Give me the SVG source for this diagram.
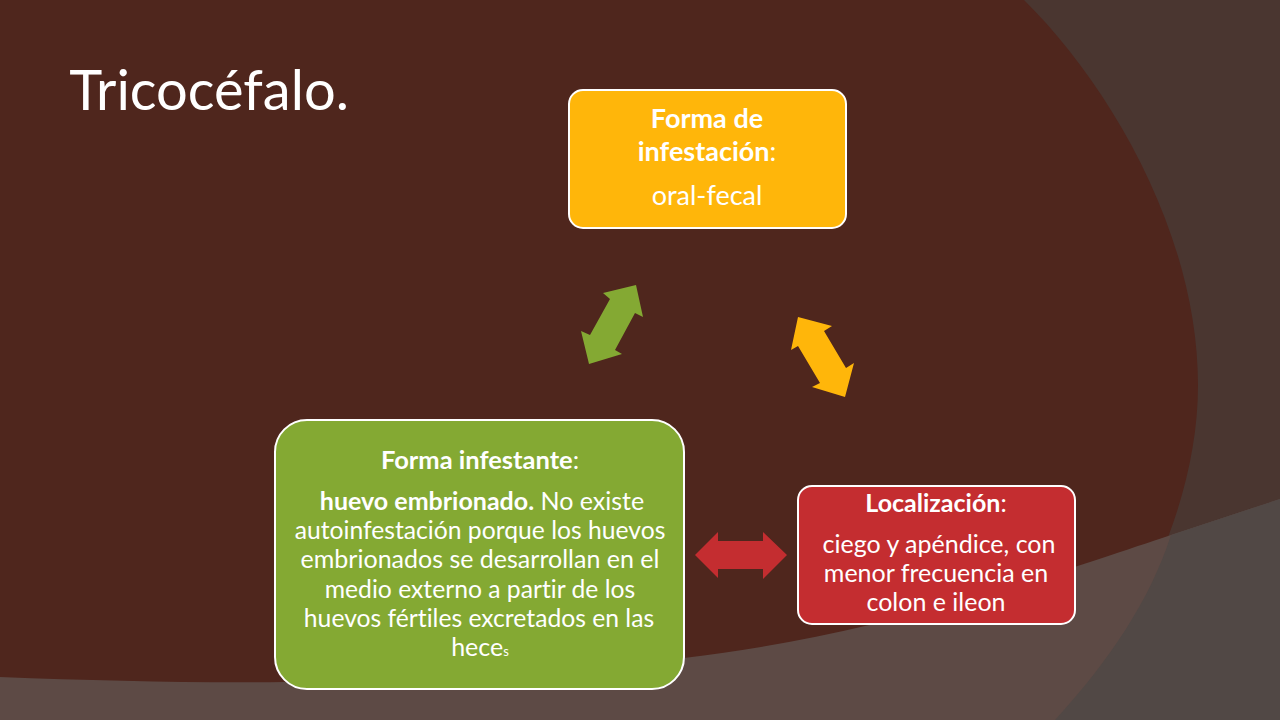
<svg xmlns="http://www.w3.org/2000/svg" width="1280" height="720" viewBox="0 0 1280 720">
<style>
text{font-family:Lato,"Open Sans","Liberation Sans",sans-serif;fill:#fff;text-anchor:middle;font-size:25px;font-variant-ligatures:none}
.b{font-weight:700}
.l{font-size:27px}
.box{stroke:#fff;stroke-width:2}
</style>
<rect width="1280" height="720" fill="#4f261d"/>
<path d="M1024 0C1110 85 1198 235 1198 385C1198 510 1130 640 1055 720H1280V0Z" fill="#4a3630"/>
<path d="M0 677C100 681 200 683 285 682C450 680 570 670 684 658C780 647 880 625 980 596C1050 576 1120 552 1171 535L1280 499V720H0Z" fill="#5d4a45"/>
<path d="M1171 535L1280 499V720H1055C1110 660 1150 600 1171 535Z" fill="#514845"/>
<g id="connectors">
<path fill="#84a933" d="M636 285L643 317L635 313L615 350L622 354L589 364L581 331L590 335L610 299L603 293Z"/>
<path fill="#ffb60a" d="M798 317L832 326L824 331L846 368L854 363L845 397L812 387L820 383L798 346L791 350Z"/>
<path fill="#c42d30" d="M695 555L718 532V541H763V532L787 555L763 579V569H718V578Z"/>
</g>
<text x="209" y="110" style="font-size:56px">Tricocéfalo.</text>
<g id="node-forma-infestacion">
<rect class="box" x="569" y="90" width="277" height="138" rx="14" fill="#ffb60a"/>
<text class="b l" x="707" y="128">Forma de</text>
<text class="l" x="707" y="161"><tspan class="b">infestación</tspan>:</text>
<text class="l" x="707" y="205">oral-fecal</text>
</g>
<g id="node-localizacion">
<rect class="box" x="798" y="486" width="277" height="138" rx="14" fill="#c42d30"/>
<text x="936" y="512"><tspan class="b">Localización</tspan>:</text>
<text x="939" y="553">ciego y apéndice, con</text>
<text x="936" y="582">menor frecuencia en</text>
<text x="936" y="611">colon e ileon</text>
</g>
<g id="node-forma-infestante">
<rect class="box" x="275" y="420" width="409" height="269" rx="32" fill="#84a933"/>
<text x="480" y="469" style="font-size:25.5px"><tspan class="b">Forma infestante</tspan>:</text>
<text x="482" y="510"><tspan class="b">huevo embrionado.</tspan> No existe</text>
<text x="480" y="539" style="font-size:24.7px">autoinfestación porque los huevos</text>
<text x="480" y="568">embrionados se desarrollan en el</text>
<text x="480" y="598" style="font-size:24.7px">medio externo a partir de los</text>
<text x="479" y="627" style="font-size:24.7px">huevos fértiles excretados en las</text>
<text x="480" y="656">hece<tspan style="font-size:13px">s</tspan></text>
</g>
</svg>
